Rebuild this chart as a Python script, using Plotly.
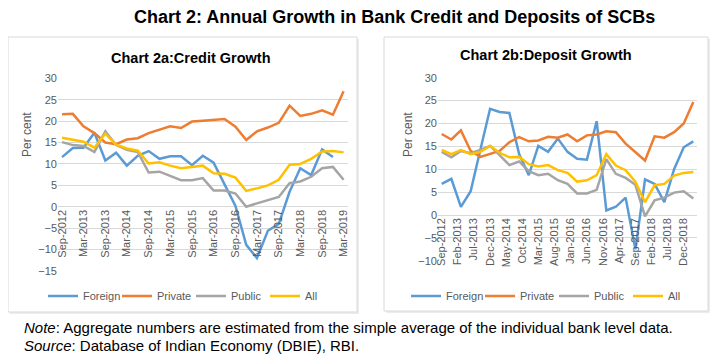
import pandas as pd
import plotly.graph_objects as go

# page offset introduced by the browser's default body margin
OFF = 8
PAGE_W, PAGE_H = 721, 360
W, H = PAGE_W - OFF, PAGE_H - OFF

quarters = ["Sep-2012", "Dec-2012", "Mar-2013", "Jun-2013", "Sep-2013", "Dec-2013",
            "Mar-2014", "Jun-2014", "Sep-2014", "Dec-2014", "Mar-2015", "Jun-2015",
            "Sep-2015", "Dec-2015", "Mar-2016", "Jun-2016", "Sep-2016", "Dec-2016",
            "Mar-2017", "Jun-2017", "Sep-2017", "Dec-2017", "Mar-2018", "Jun-2018",
            "Sep-2018", "Dec-2018", "Mar-2019"]

series_names = ["Foreign", "Private", "Public", "All"]
series_colors = ["#5B9BD5", "#ED7D31", "#A5A5A5", "#FFC000"]

credit_foreign = [11.6, 13.7, 13.8, 17.3, 10.8, 12.6, 9.6, 11.9, 13.0, 11.2, 11.8, 11.8, 9.7, 11.9,
                  10.3, 5.3, 0.2, -8.9, -12.0, -5.6, -4.0, 3.5, 9.0, 7.4, 13.4, 11.6, None]
credit_private = [21.6, 21.7, 18.8, 17.2, 15.0, 14.6, 15.7, 16.0, 17.2, 18.0, 18.8, 18.4, 19.9, 20.1,
                  20.3, 20.5, 18.7, 15.6, 17.6, 18.5, 19.6, 23.6, 21.2, 21.7, 22.5, 21.5, 27.0]
credit_public = [15.1, 14.4, 14.2, 12.8, 17.6, 14.4, 13.3, 12.8, 8.0, 8.2, 7.2, 6.2, 6.2, 6.7,
                 3.8, 3.8, 3.1, 0.0, 0.8, 1.5, 2.3, 5.5, 5.9, 7.0, 9.0, 9.3, 6.3]
credit_all = [16.1, 15.7, 15.2, 13.8, 17.1, 14.5, 13.6, 13.1, 10.1, 10.4, 9.6, 9.0, 9.3, 9.6,
              7.8, 7.7, 6.8, 3.7, 4.3, 5.0, 6.3, 9.8, 10.0, 11.2, 12.9, 13.0, 12.7]

deposit_foreign = [6.8, 7.9, 1.8, 5.2, 14.3, 23.2, 22.5, 22.3, 13.3, 8.7, 15.1, 13.8, 16.7, 13.8,
                   12.3, 12.1, 20.5, 1.0, 1.8, 3.8, -7.5, 7.8, 6.8, 2.8, 10.0, 14.8, 16.1]
deposit_private = [17.7, 16.5, 18.5, 14.0, 12.7, 13.3, 14.0, 15.9, 17.0, 16.1, 16.3, 17.1, 16.9, 17.6,
                   16.1, 17.4, 17.6, 18.3, 18.1, 15.6, 13.8, 11.9, 17.2, 16.9, 18.1, 20.0, 24.7]
deposit_public = [13.8, 12.6, 14.0, 13.5, 14.2, 15.1, 13.1, 10.9, 11.7, 9.6, 8.7, 9.0, 7.6, 6.8,
                  4.7, 4.7, 5.5, 12.2, 9.0, 8.1, 6.6, -0.3, 3.2, 3.8, 4.9, 5.2, 3.6]
deposit_all = [14.2, 13.3, 14.2, 13.3, 13.8, 15.1, 13.6, 12.6, 12.7, 11.1, 10.6, 10.9, 9.8, 9.2,
               7.3, 7.6, 8.7, 13.3, 10.8, 9.8, 7.3, 2.8, 6.5, 6.8, 8.6, 9.2, 9.4]

credit_series = [credit_foreign, credit_private, credit_public, credit_all]
deposit_series = [deposit_foreign, deposit_private, deposit_public, deposit_all]

dates = pd.to_datetime(quarters, format="%b-%Y")

FONT = "Liberation Sans, Arial, sans-serif"
GREY_TXT = "#595959"
GRID = "#D9D9D9"


def px_x(p):
    """page pixel x -> paper fraction"""
    return (p - OFF) / W


def px_y(p):
    """page pixel y -> paper fraction"""
    return 1 - (p - OFF) / H


def date_range_for(first_px, last_px, dom_l, dom_r):
    days = (dates[-1] - dates[0]).days
    ppd = (last_px - first_px) / days
    start = dates[0] - pd.Timedelta(days=(first_px - dom_l) / ppd)
    end = dates[-1] + pd.Timedelta(days=(dom_r - last_px) / ppd)
    return [start.strftime("%Y-%m-%d %H:%M"), end.strftime("%Y-%m-%d %H:%M")]


fig = go.Figure()

for name, color, vals in zip(series_names, series_colors, credit_series):
    fig.add_trace(go.Scatter(x=dates, y=vals, name=name, mode="lines",
                             line=dict(color=color, width=2.5), xaxis="x", yaxis="y",
                             legend="legend", connectgaps=False))
for name, color, vals in zip(series_names, series_colors, deposit_series):
    fig.add_trace(go.Scatter(x=dates, y=vals, name=name, mode="lines",
                             line=dict(color=color, width=2.5), xaxis="x2", yaxis="y2",
                             legend="legend2"))

# panel geometry (page pixels)
L_dom = (58, 348)
L_y = (271.0, 78.3)  # -15 .. 30
R_dom = (438, 697)
R_y = (260.8, 77.7)  # -10 .. 30

left_y_dom = [px_y(L_y[0]), px_y(L_y[1])]
right_y_dom = [px_y(R_y[0]), px_y(R_y[1])]

ax_common = dict(showgrid=False, zeroline=False, showline=False, ticks="",
                 tickangle=-90, tickformat="%b-%Y", tickmode="linear",
                 tick0="2012-09-01", automargin=False,
                 tickfont=dict(family=FONT, size=11, color=GREY_TXT))
yax_common = dict(showgrid=True, gridcolor=GRID, gridwidth=1, zeroline=True,
                  zerolinecolor=GRID, zerolinewidth=1, showline=False, ticks="",
                  dtick=5, automargin=False,
                  tickfont=dict(family=FONT, size=11, color=GREY_TXT))

fig.update_layout(
    xaxis=dict(domain=[px_x(L_dom[0]), px_x(L_dom[1])], anchor="free",
               position=left_y_dom[0] + (left_y_dom[1] - left_y_dom[0]) * 15 / 45,
               range=date_range_for(62, 343.6, *L_dom), dtick="M6", **ax_common),
    yaxis=dict(domain=left_y_dom, anchor="x", range=[-15, 30], **yax_common),
    xaxis2=dict(domain=[px_x(R_dom[0]), px_x(R_dom[1])], anchor="free",
                position=right_y_dom[0] + (right_y_dom[1] - right_y_dom[0]) * 10 / 40,
                range=date_range_for(441.7, 693.3, *R_dom), dtick="M5", **ax_common),
    yaxis2=dict(domain=right_y_dom, anchor="x2", range=[-10, 30], **yax_common),
)

legend_common = dict(orientation="h", yanchor="middle", xanchor="left",
                     font=dict(family=FONT, size=11, color=GREY_TXT),
                     bgcolor="rgba(0,0,0,0)", entrywidth=29, entrywidthmode="pixels",
                     itemclick=False, itemdoubleclick=False, tracegroupgap=0)
fig.update_layout(
    legend=dict(x=px_x(43), y=px_y(296), **legend_common),
    legend2=dict(x=px_x(406), y=px_y(296), **legend_common),
)

# panel boxes
shapes = []
for (x0, y0, x1, y1) in [(8, 37, 357, 312), (384, 37, 708, 311)]:
    shapes.append(dict(type="rect", xref="paper", yref="paper", layer="below",
                       x0=px_x(x0 + 2), x1=px_x(x1 + 2), y0=px_y(y1 + 2), y1=px_y(y0 + 2),
                       fillcolor="#ECECEC", line=dict(width=0)))
    shapes.append(dict(type="rect", xref="paper", yref="paper", layer="below",
                       x0=px_x(x0), x1=px_x(x1), y0=px_y(y1), y1=px_y(y0),
                       fillcolor="white", line=dict(color="#D9D9D9", width=1)))

annotations = [
    dict(text="<b>Chart 2: Annual Growth in Bank Credit and Deposits of SCBs</b>",
         x=px_x(394), y=px_y(17), xref="paper", yref="paper", showarrow=False,
         xanchor="center", yanchor="middle", font=dict(family=FONT, size=18, color="black")),
    dict(text="<b>Chart 2a:Credit Growth</b>", x=px_x(191), y=px_y(58), xref="paper",
         yref="paper", showarrow=False, xanchor="center", yanchor="middle",
         font=dict(family=FONT, size=14.5, color="black")),
    dict(text="<b>Chart 2b:Deposit Growth</b>", x=px_x(546), y=px_y(55), xref="paper",
         yref="paper", showarrow=False, xanchor="center", yanchor="middle",
         font=dict(family=FONT, size=14.5, color="black")),
    dict(text="Per cent", x=px_x(27), y=px_y(135), xref="paper", yref="paper",
         showarrow=False, textangle=-90, xanchor="center", yanchor="middle",
         font=dict(family=FONT, size=12, color=GREY_TXT)),
    dict(text="Per cent", x=px_x(408), y=px_y(135), xref="paper", yref="paper",
         showarrow=False, textangle=-90, xanchor="center", yanchor="middle",
         font=dict(family=FONT, size=12, color=GREY_TXT)),
    dict(text="<i>Note</i>: Aggregate numbers are estimated from the simple average of the individual bank level data.",
         x=px_x(22), y=px_y(327), xref="paper", yref="paper", showarrow=False,
         xanchor="left", yanchor="middle", font=dict(family=FONT, size=15, color="black")),
    dict(text="<i>Source</i>: Database of Indian Economy (DBIE), RBI.",
         x=px_x(22), y=px_y(345), xref="paper", yref="paper", showarrow=False,
         xanchor="left", yanchor="middle", font=dict(family=FONT, size=15, color="black")),
]

fig.update_layout(
    width=W, height=H, margin=dict(l=0, r=0, t=0, b=0, autoexpand=False),
    paper_bgcolor="white", plot_bgcolor="rgba(0,0,0,0)",
    shapes=shapes, annotations=annotations, showlegend=True,
    font=dict(family=FONT),
)

fig.write_html("out.html")
